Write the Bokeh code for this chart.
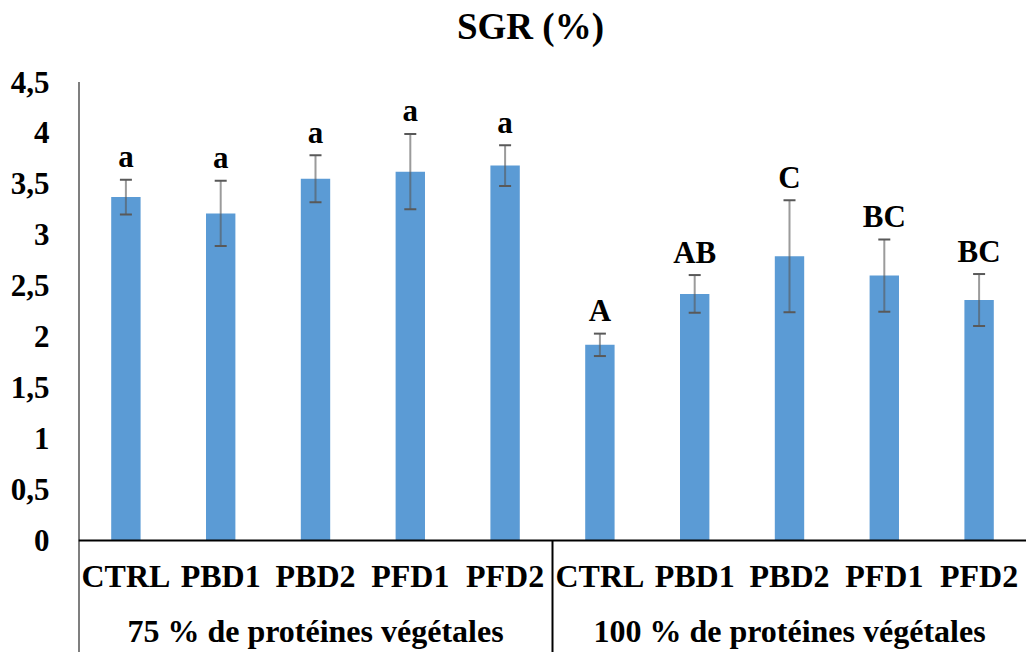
from bokeh.plotting import figure
from bokeh.models import (FactorRange, Range1d, FixedTicker, Whisker, TeeHead,
                          ColumnDataSource, Span)
from bokeh.core.properties import value
from bokeh.embed import file_html
from bokeh.resources import INLINE

# ---- data ----
title_text = "SGR (%)"
groups = ["75 % de protéines végétales", "100 % de protéines végétales"]
diets = ["CTRL", "PBD1", "PBD2", "PFD1", "PFD2"]
sgr_75 = [3.37, 3.21, 3.55, 3.62, 3.68]
sd_75 = [0.17, 0.32, 0.23, 0.37, 0.20]
sgr_100 = [1.92, 2.42, 2.79, 2.60, 2.36]
sd_100 = [0.11, 0.185, 0.55, 0.355, 0.255]
letters_75 = ["a", "a", "a", "a", "a"]
letters_100 = ["A", "AB", "C", "BC", "BC"]
y_ticks = [0, 0.5, 1, 1.5, 2, 2.5, 3, 3.5, 4, 4.5]
y_tick_labels = ["0", "0,5", "1", "1,5", "2", "2,5", "3", "3,5", "4", "4,5"]

FONT = value("Liberation Serif")
BAR = "#5B9BD5"

factors = [(g, d) for g in groups for d in diets]
tops = sgr_75 + sgr_100
sds = sd_75 + sd_100
letters = letters_75 + letters_100
src = ColumnDataSource(dict(
    x=factors,
    top=tops,
    upper=[t + s for t, s in zip(tops, sds)],
    lower=[t - s for t, s in zip(tops, sds)],
    letter=letters,
    diet=[d for _, d in factors],
    zero=[0] * len(factors),
))
gsrc = ColumnDataSource(dict(x=groups, zero=[0] * len(groups), text=groups))

y_max = 4.5          # top of the value axis
y_view_top = 5.3     # room above the axis for the title
y_bottom = -1.1      # room below the axis for the category labels

p = figure(width=1026, height=652,
           x_range=FactorRange(*factors, factor_padding=0, group_padding=0,
                               range_padding=0),
           y_range=Range1d(y_bottom, y_view_top),
           output_backend="svg", toolbar_location=None,
           min_border_left=78, min_border_right=0, min_border_bottom=0,
           min_border_top=0)
p.outline_line_color = None
p.xgrid.grid_line_color = None
p.ygrid.grid_line_color = None
p.xaxis.visible = False
p.background_fill_color = "#ffffff"
p.border_fill_color = "#ffffff"

# y axis (labels only; the line is drawn below so that it starts at 4,5)
ya = p.yaxis[0]
ya.ticker = FixedTicker(ticks=y_ticks)
ya.major_label_overrides = {float(t): l for t, l in zip(y_ticks, y_tick_labels)}
ya.axis_line_color = None
ya.major_tick_line_color = None
ya.minor_tick_line_color = None
ya.major_tick_out = 0
ya.major_tick_in = 0
ya.major_label_standoff = 29
ya.major_label_text_font = "Liberation Serif"
ya.major_label_text_font_style = "bold"
ya.major_label_text_font_size = "31px"
ya.major_label_text_color = "#000000"

left_edge = [(groups[0], diets[0], -0.5)]
p.segment(x0=left_edge, y0=[y_max], x1=left_edge, y1=[y_bottom],
          line_color="#000000", line_width=2)

# bars
p.vbar(x="x", top="top", width=0.31, source=src, fill_color=BAR,
       line_color=None)

# error bars (drawn over the bars)
p.add_layout(Whisker(base="x", upper="upper", lower="lower", source=src,
                     level="overlay",
                     line_color="#595959", line_alpha=0.6, line_width=2,
                     upper_head=TeeHead(size=12, line_color="#595959", line_width=2),
                     lower_head=TeeHead(size=12, line_color="#595959", line_width=2)))

# significance letters
p.text(x="x", y="upper", text="letter", source=src, text_font=FONT,
       text_font_style="bold", text_font_size="31px", text_color="#000000",
       text_align="center", text_baseline="alphabetic", y_offset=-23)

# baseline & separator (category axis box)
p.add_layout(Span(location=0, dimension="width", line_color="#000000",
                  line_width=2))
sep = [(groups[0], diets[-1], 0.5)]
p.segment(x0=sep, y0=[0], x1=sep, y1=[y_bottom], line_color="#000000",
          line_width=2)

# category labels
p.text(x="x", y="zero", text="diet", source=src, text_font=FONT,
       text_font_style="bold", text_font_size="32px", text_color="#000000",
       text_align="center", text_baseline="alphabetic", y_offset=36)
p.text(x="x", y="zero", text="text", source=gsrc, text_font=FONT,
       text_font_style="bold", text_font_size="32px", text_color="#000000",
       text_align="center", text_baseline="alphabetic", y_offset=91)

# title
p.text(x=sep, y=[y_max], text=[title_text], text_font=FONT,
       text_font_style="bold", text_font_size="37px", text_color="#000000",
       text_align="center", text_baseline="middle", x_offset=-22, y_offset=-56)

open("out.html", "w").write(file_html(p, INLINE))
